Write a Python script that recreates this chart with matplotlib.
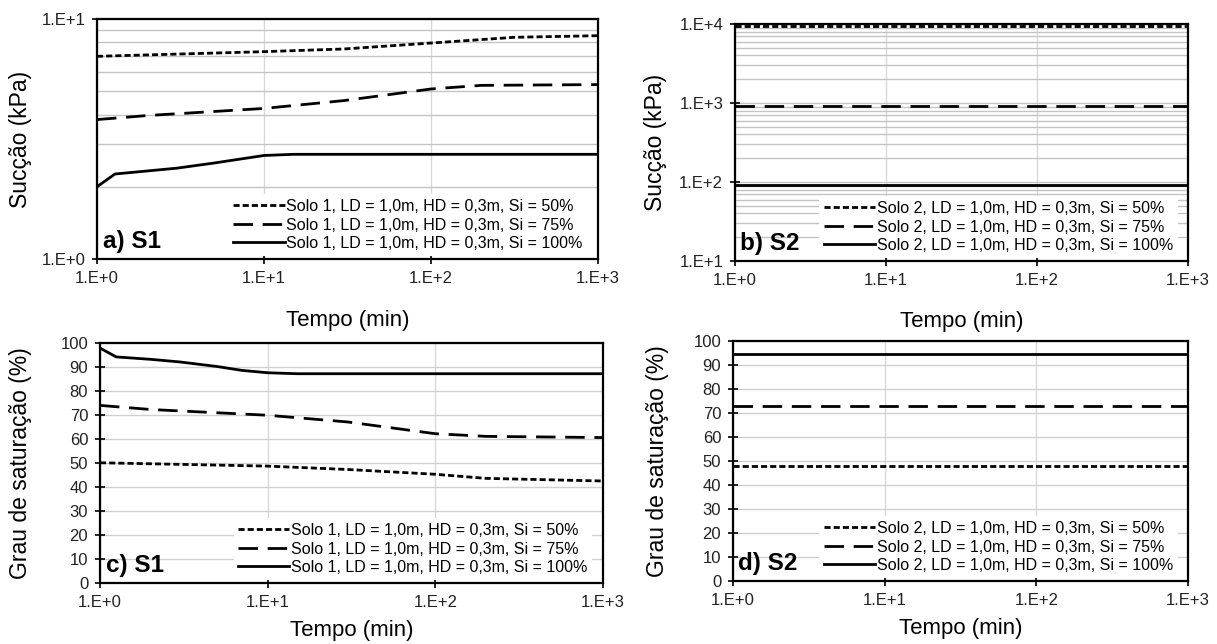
import numpy as np
import matplotlib
matplotlib.use("Agg")
import matplotlib.pyplot as plt
from matplotlib.ticker import FuncFormatter, LogLocator, NullLocator, MultipleLocator

plt.rcParams['font.family'] = ['Liberation Sans', 'DejaVu Sans']

# Panel a) S1 - suction (kPa) vs time (min)
a_t50 = [1, 10, 30, 100, 316, 1000]
a_s50 = [6.99, 7.31, 7.50, 7.94, 8.39, 8.52]
a_t75 = [1, 2, 10, 30, 50, 100, 200, 1000]
a_s75 = [3.81, 3.96, 4.24, 4.57, 4.79, 5.11, 5.29, 5.33]
a_t100 = [1, 1.28, 3, 5, 10, 15, 1000]
a_s100 = [2.00, 2.26, 2.39, 2.51, 2.70, 2.73, 2.73]

# Panel b) S2 - suction (kPa), constant
b_t = [1, 1000]
b_s50 = [9500, 9500]
b_s75 = [912, 912]
b_s100 = [92, 92]

# Panel c) S1 - degree of saturation (%)
c_t50 = [1, 10, 30, 100, 200, 1000]
c_g50 = [50.1, 48.7, 47.3, 45.3, 43.6, 42.5]
c_t75 = [1, 2, 10, 30, 100, 200, 1000]
c_g75 = [74.0, 72.3, 69.9, 67.1, 62.2, 61.1, 60.6]
c_t100 = [1, 1.25, 2, 3, 5, 7, 10, 15, 1000]
c_g100 = [97.9, 94.2, 93.2, 92.1, 90.2, 88.6, 87.6, 87.2, 87.2]

# Panel d) S2 - degree of saturation (%), constant
d_t = [1, 1000]
d_g50 = [47.8, 47.8]
d_g75 = [73.0, 73.0]
d_g100 = [94.4, 94.4]

LBL = "Solo {}, LD = 1,0m, HD = 0,3m, Si = {}%"
STYLES = {50: (0, (2.2, 1.1)), 75: (0, (7, 3.5)), 100: '-'}

W, H = 1217, 644
fig = plt.figure(figsize=(W / 100, H / 100), dpi=100)


def px_axes(x0, y0, x1, y1):
    return fig.add_axes([x0 / W, 1 - y1 / H, (x1 - x0) / W, (y1 - y0) / H])


ax_a = px_axes(97, 19, 598, 259)
ax_b = px_axes(735, 24, 1188, 261)
ax_c = px_axes(100, 343, 603, 583)
ax_d = px_axes(733, 341, 1188, 581)

exp_fmt = FuncFormatter(lambda v, _: "1.E+{}".format(int(round(np.log10(v)))))


def style_axes(ax, log_y, ylabel, panel, xlab_y, ylab_x):
    ax.set_xscale('log')
    ax.set_xlim(1, 1000)
    ax.xaxis.set_major_locator(LogLocator(base=10, numticks=10))
    ax.xaxis.set_minor_locator(NullLocator())
    ax.xaxis.set_major_formatter(exp_fmt)
    if log_y:
        ax.set_yscale('log')
        ax.yaxis.set_major_locator(LogLocator(base=10, numticks=10))
        ax.yaxis.set_minor_locator(LogLocator(base=10, subs=np.arange(2, 10), numticks=10))
        ax.yaxis.set_major_formatter(exp_fmt)
        ax.yaxis.set_minor_formatter(plt.NullFormatter())
        ax.grid(True, which='both', axis='y', color='#c4c4c4', lw=1.0)
    else:
        ax.set_ylim(0, 100)
        ax.yaxis.set_major_locator(MultipleLocator(10))
        ax.grid(True, which='major', axis='y', color='#d0d0d0', lw=1.0)
    ax.grid(True, which='major', axis='x', color='#d8d8d8', lw=1.0)
    ax.set_axisbelow(True)
    for sp in ax.spines.values():
        sp.set_linewidth(1.6)
        sp.set_color('black')
    ax.tick_params(which='major', direction='inout', length=7, width=1.2,
                   labelsize=12, color='black', pad=5, labelcolor='#222222')
    ax.tick_params(which='minor', length=0)
    ax.set_xlabel("Tempo (min)", fontsize=16)
    ax.set_ylabel(ylabel, fontsize=16.5)
    ax.xaxis.set_label_coords(0.5, xlab_y)
    ax.yaxis.set_label_coords(ylab_x, 0.5)
    ax.text(0.012, 0.025, panel, transform=ax.transAxes, fontsize=17.5,
            fontweight='bold', ha='left', va='bottom', zorder=5)


def add_lines(ax, solo, t50, y50, t75, y75, t100, y100):
    ax.plot(t50, y50, color='black', lw=2.0, ls=STYLES[50], label=LBL.format(solo, 50))
    ax.plot(t75, y75, color='black', lw=2.0, ls=STYLES[75], label=LBL.format(solo, 75))
    ax.plot(t100, y100, color='black', lw=2.0, ls=STYLES[100], label=LBL.format(solo, 100))
    leg = ax.legend(loc='lower right', bbox_to_anchor=(0.985, 0.0), fontsize=11.5,
                    frameon=True, fancybox=False, edgecolor='none', framealpha=1,
                    facecolor='white', handlelength=3.2, handletextpad=0.1,
                    labelspacing=0.22, borderpad=0.3, borderaxespad=0.2)
    leg.set_zorder(4)


add_lines(ax_a, 1, a_t50, a_s50, a_t75, a_s75, a_t100, a_s100)
style_axes(ax_a, True, "Sucção (kPa)", "a) S1", -0.213, -0.13)
ax_a.set_ylim(1, 10)

add_lines(ax_b, 2, b_t, b_s50, b_t, b_s75, b_t, b_s100)
style_axes(ax_b, True, "Sucção (kPa)", "b) S2", -0.21, -0.15)
ax_b.set_ylim(10, 10000)

add_lines(ax_c, 1, c_t50, c_g50, c_t75, c_g75, c_t100, c_g100)
style_axes(ax_c, False, "Grau de saturação (%)", "c) S1", -0.155, -0.135)

add_lines(ax_d, 2, d_t, d_g50, d_t, d_g75, d_t, d_g100)
style_axes(ax_d, False, "Grau de saturação (%)", "d) S2", -0.155, -0.141)

fig.savefig("out.png", dpi=100)
